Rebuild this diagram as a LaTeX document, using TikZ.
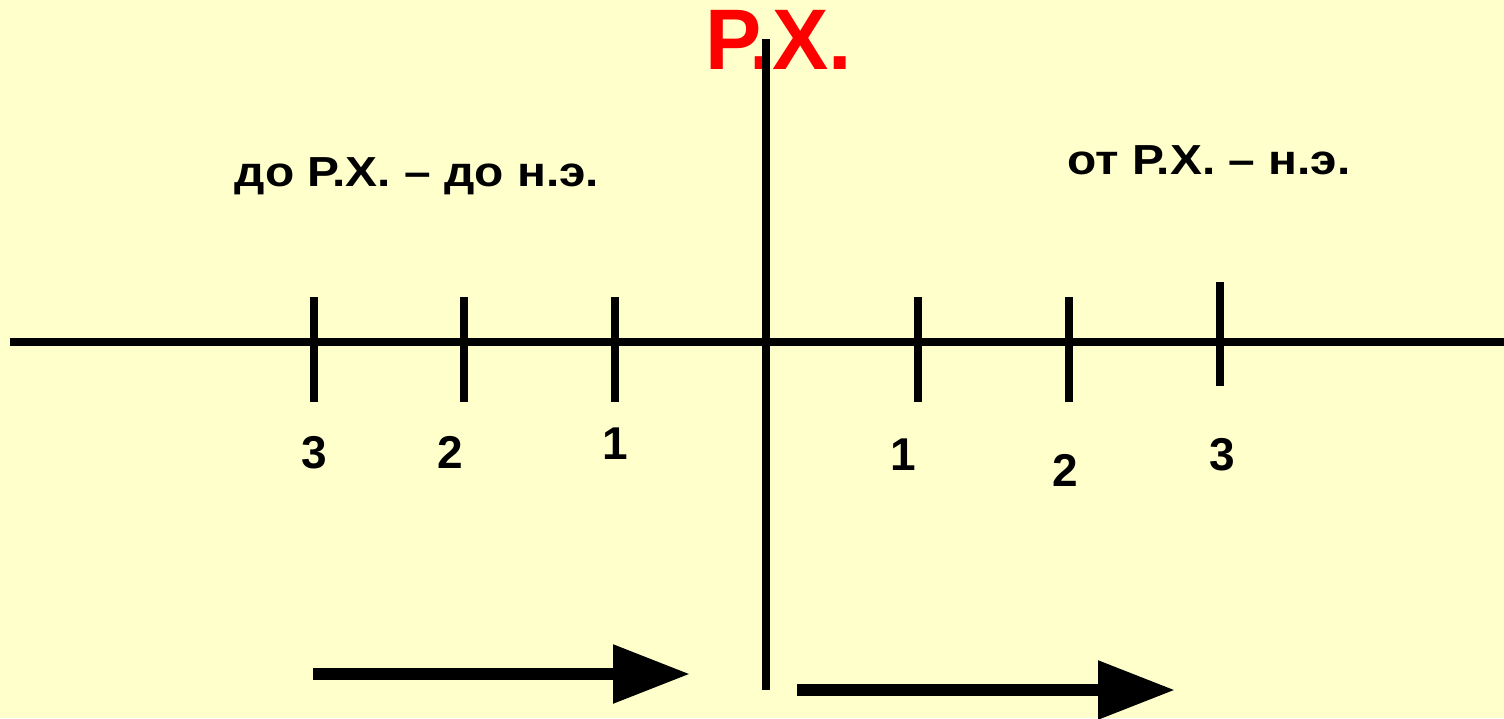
\documentclass[tikz,border=0pt]{standalone}
\usepackage{fontspec}
\setmainfont{Liberation Sans}
\usetikzlibrary{arrows.meta}
\definecolor{bgyellow}{HTML}{FFFFCC}
\definecolor{rxred}{HTML}{FF0000}
\tikzset{
  axisline/.style={line width=7.7pt, black},
  tickline/.style={line width=7.7pt, black},
  biglabel/.style={font=\bfseries\fontsize{42}{50}\selectfont, inner sep=0pt},
  numlabel/.style={font=\bfseries\fontsize{46}{54}\selectfont, inner sep=0pt},
  fatarrow/.style={line width=12pt, -{Triangle[length=77pt,width=56pt]}}
}
\begin{document}
\begin{tikzpicture}[x=1pt,y=-1pt]
\fill[bgyellow] (0,0) rectangle (1504,718);
\useasboundingbox (0,0) rectangle (1504,718);
% title
\node[font=\bfseries\fontsize{86}{90}\selectfont, text=rxred, inner sep=0pt, xscale=0.98] (rx) at (779,40) {Р.Х.};
% headings
\node[biglabel, xscale=1.14] (bc) at (417,176) {до Р.Х. – до н.э.};
\node[biglabel, xscale=1.14] (ad) at (1209,160) {от Р.Х. – н.э.};
% axes
\coordinate (axL) at (10,342);
\coordinate (axR) at (1504,342);
\coordinate (vT) at (766,39);
\coordinate (vB) at (766,690);
\draw[axisline] (axL) -- (axR);
\draw[axisline] (vT) -- (vB);
% ticks
\foreach \n/\x/\a/\b in {l3/314/297/402, l2/464/297/402, l1/615/297/402, r1/918/297/402, r2/1069/297/402, r3/1220/282/386}{
  \coordinate (\n t) at (\x,\a);
  \coordinate (\n b) at (\x,\b);
  \draw[tickline] (\n t) -- (\n b);
}
% numbers
\node[numlabel] (nl3) at (314,453) {3};
\node[numlabel] (nl2) at (450,452) {2};
\node[numlabel] (nl1) at (615,444) {1};
\node[numlabel] (nr1) at (903,455) {1};
\node[numlabel] (nr2) at (1065,470) {2};
\node[numlabel] (nr3) at (1222,455) {3};
% arrows
\coordinate (a1s) at (313,674);
\coordinate (a1e) at (690,674);
\coordinate (a2s) at (797,690);
\coordinate (a2e) at (1175,690);
\draw[fatarrow] (a1s) -- (a1e);
\draw[fatarrow] (a2s) -- (a2e);
\end{tikzpicture}
\end{document}
